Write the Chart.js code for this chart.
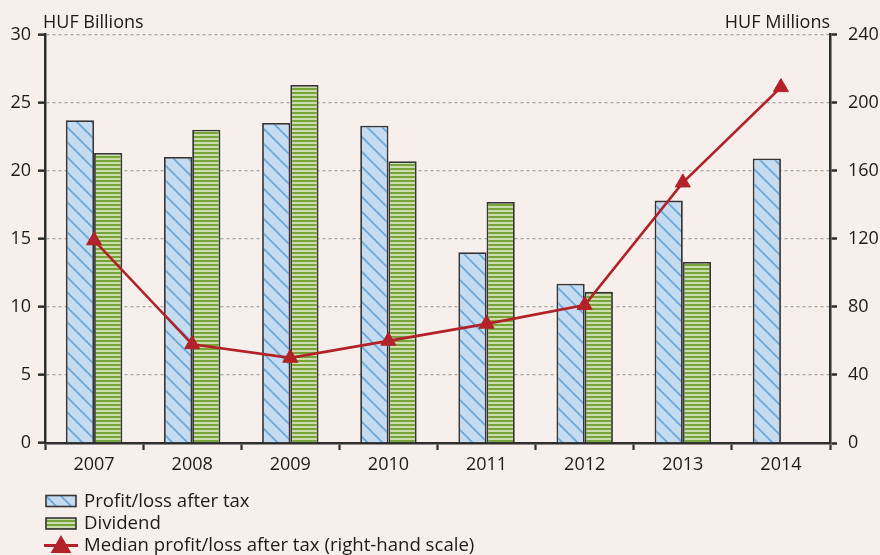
<!DOCTYPE html>
<html><head><meta charset="utf-8">
<script src="https://cdn.jsdelivr.net/npm/chart.js@4.4.1/dist/chart.umd.min.js"></script>
<style>
html,body{margin:0;padding:0;background:#f6efec;}
#wrap{position:relative;width:880px;height:555px;}
canvas{display:block;}
</style>
</head><body>
<div id="wrap"><canvas id="c" width="880" height="555"></canvas></div>
<script>
// ---- data ----
const categories = ['2007', '2008', '2009', '2010', '2011', '2012', '2013', '2014'];
const profitAfterTax = [23.7, 21.0, 23.5, 23.3, 14.0, 11.7, 17.8, 20.9];
const dividend = [21.3, 23.0, 26.3, 20.7, 17.7, 11.1, 13.3, null];
const medianProfit = [119, 58, 50, 60, 70, 81, 153, 209];
const leftAxisTicks = [0, 5, 10, 15, 20, 25, 30];
const rightAxisTicks = [0, 40, 80, 120, 160, 200, 240];
const seriesLabels = ['Profit/loss after tax', 'Dividend', 'Median profit/loss after tax (right-hand scale)'];
const axisTitles = ['HUF Billions', 'HUF Millions'];

// ---- styles ----
const TEXT = '#1c1a1a';
const FONT = "'Open Sans'";
const FS = 18;
const LEGEND_FS = 18.6;
const AXIS = '#2e2e2e';
const RED = '#b22228';

function hatchPattern() {
  const s = 15;
  const c = document.createElement('canvas'); c.width = s; c.height = s;
  const g = c.getContext('2d');
  g.fillStyle = '#c4dbf0'; g.fillRect(0, 0, s, s);
  g.strokeStyle = '#6aa8da'; g.lineWidth = 1.8;
  g.beginPath();
  for (const k of [-s, 0, s]) { g.moveTo(k - 1, -1); g.lineTo(k + s + 1, s + 1); }
  g.stroke();
  return g.createPattern(c, 'repeat');
}
function stripePattern() {
  const c = document.createElement('canvas'); c.width = 4; c.height = 4;
  const g = c.getContext('2d');
  g.fillStyle = '#cbddac'; g.fillRect(0, 0, 4, 4);
  g.fillStyle = '#78a53b'; g.fillRect(0, 0, 4, 2);
  return g.createPattern(c, 'repeat');
}

const extras = {
  id: 'extras',
  afterDraw(chart) {
    const ctx = chart.ctx;
    const area = chart.chartArea;
    const ds = chart.data.datasets;
    ctx.save();
    ctx.font = FS + 'px ' + FONT;
    ctx.fillStyle = TEXT;
    ctx.textBaseline = 'alphabetic';
    ctx.textAlign = 'left';
    ctx.fillText(axisTitles[0], area.left - 2, 28);
    ctx.textAlign = 'right';
    ctx.fillText(axisTitles[1], area.right, 28);
    ctx.textAlign = 'left';
    ctx.font = LEGEND_FS + 'px ' + FONT;
    const rows = [506.5, 529, 551];
    const boxX = 46, textX = 84;
    for (let i = 0; i < 2; i++) {
      const y = rows[i];
      ctx.fillStyle = ds[i].backgroundColor;
      ctx.fillRect(boxX, y - 11, 30, 11);
      ctx.strokeStyle = ds[i].borderColor; ctx.lineWidth = 1.6;
      ctx.strokeRect(boxX, y - 11, 30, 11);
      ctx.fillStyle = TEXT;
      ctx.fillText(ds[i].label, textX, y);
    }
    const ly = 545.5;
    ctx.strokeStyle = ds[2].borderColor; ctx.lineWidth = 3;
    ctx.beginPath(); ctx.moveTo(44, ly); ctx.lineTo(78, ly); ctx.stroke();
    ctx.fillStyle = ds[2].pointBackgroundColor; ctx.strokeStyle = ds[2].borderColor;
    Chart.helpers.drawPoint(ctx, {pointStyle: 'triangle', radius: 9, borderWidth: 1, rotation: 0}, 61, 547);
    ctx.fillStyle = TEXT;
    ctx.fillText(ds[2].label, textX, rows[2]);
    ctx.restore();
  }
};

Chart.defaults.font.family = FONT;
Chart.defaults.font.size = FS;
Chart.defaults.color = TEXT;

new Chart(document.getElementById('c'), {
  type: 'bar',
  data: {
    labels: categories,
    datasets: [
      {
        label: seriesLabels[0], data: profitAfterTax, yAxisID: 'y', order: 2,
        backgroundColor: hatchPattern(), borderColor: '#353535', borderWidth: 1.8,
        categoryPercentage: 0.575, barPercentage: 1
      },
      {
        label: seriesLabels[1], data: dividend, yAxisID: 'y', order: 3,
        backgroundColor: stripePattern(), borderColor: '#353535', borderWidth: 1.8,
        categoryPercentage: 0.575, barPercentage: 1
      },
      {
        type: 'line', label: seriesLabels[2], data: medianProfit, yAxisID: 'y1', order: 0,
        borderColor: RED, borderWidth: 2.6, tension: 0, fill: false,
        pointStyle: 'triangle', pointRadius: 8.7, pointBorderWidth: 1,
        pointBackgroundColor: RED, pointBorderColor: RED
      }
    ]
  },
  options: {
    responsive: false, devicePixelRatio: 1, animation: false,
    layout: { padding: { top: 34.5, left: 0, right: 0, bottom: 0 } },
    plugins: { legend: { display: false }, tooltip: { enabled: false }, title: { display: false } },
    scales: {
      x: {
        offset: true,
        grid: { offset: true, drawOnChartArea: false, drawTicks: true, tickLength: 7, tickColor: AXIS, tickWidth: 2.2 },
        border: { display: true, color: AXIS, width: 2.5 },
        ticks: { padding: 4, color: TEXT, font: { size: FS } },
        afterFit(s) { s.height = 112; }
      },
      y: {
        position: 'left', min: 0, max: 30,
        afterBuildTicks(s) { s.ticks = leftAxisTicks.map(v => ({ value: v })); },
        grid: { color: '#a9a9a9', lineWidth: 1.3, drawTicks: true, tickLength: 7, tickColor: AXIS, tickWidth: 2.5, tickBorderDash: [] },
        border: { display: true, color: AXIS, width: 2.5, dash: [3, 3] },
        ticks: { padding: 7, color: TEXT, font: { size: FS } },
        afterFit(s) { s.width = 45; }
      },
      y1: {
        position: 'right', min: 0, max: 240,
        afterBuildTicks(s) { s.ticks = rightAxisTicks.map(v => ({ value: v })); },
        grid: { drawOnChartArea: false, drawTicks: true, tickLength: 7, tickColor: AXIS, tickWidth: 2.5 },
        border: { display: true, color: AXIS, width: 2.5 },
        ticks: { padding: 11, color: TEXT, font: { size: FS } },
        afterFit(s) { s.width = 50; }
      }
    }
  },
  plugins: [extras]
});
</script>
</body></html>
